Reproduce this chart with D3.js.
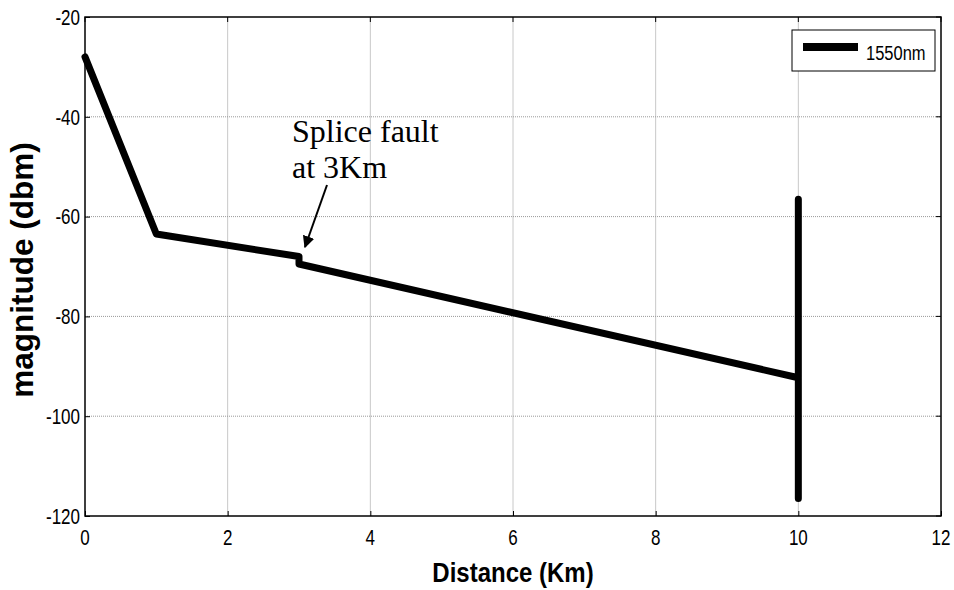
<!DOCTYPE html>
<html>
<head>
<meta charset="utf-8">
<script src="https://d3js.org/d3.v7.min.js"></script>
<style>
  body { margin: 0; background: #fff; }
  text { font-family: Arial, "Liberation Sans", sans-serif; }
</style>
</head>
<body>
<script>
// trace of the 1550nm OTDR curve (km, dbm)
var distance = [0, 1, 3, 3, 10, 10, 10];
var magnitude = [-28, -63.5, -68, -69.5, -92.3, -56.5, -116.5];
var xTicks = [0, 2, 4, 6, 8, 10, 12];
var yTicks = [-20, -40, -60, -80, -100, -120];
var seriesName = "1550nm";

var W = 954, H = 590;
var pLeft = 85, pRight = 941, pTop = 17, pBottom = 516;
var stretch = 1.28;   // the figure's text is taller than it is wide

var svg = d3.select("body").append("svg")
    .attr("width", W).attr("height", H);

var x = d3.scaleLinear().domain([0, 12]).range([pLeft, pRight]);
var y = d3.scaleLinear().domain([-120, -20]).range([pBottom, pTop]);

// grid
svg.append("g").selectAll("line").data(xTicks.slice(1, -1)).enter().append("line")
    .attr("x1", d => x(d)).attr("x2", d => x(d))
    .attr("y1", pTop).attr("y2", pBottom)
    .attr("stroke", "#c8c8c8").attr("stroke-width", 1);
svg.append("g").selectAll("line").data(yTicks.slice(1, -1)).enter().append("line")
    .attr("x1", pLeft).attr("x2", pRight)
    .attr("y1", d => y(d)).attr("y2", d => y(d))
    .attr("stroke", "#999").attr("stroke-width", 1).attr("stroke-dasharray", "1,1");

// frame
svg.append("rect")
    .attr("x", pLeft).attr("y", pTop)
    .attr("width", pRight - pLeft).attr("height", pBottom - pTop)
    .attr("fill", "none").attr("stroke", "#000").attr("stroke-width", 1.5);

// axes: inward ticks, labels drawn separately so they can be stretched
var xAxis = d3.axisBottom(x).tickValues(xTicks).tickSizeInner(-5).tickSizeOuter(0).tickFormat("");
var yAxis = d3.axisLeft(y).tickValues(yTicks).tickSizeInner(-5).tickSizeOuter(0).tickFormat("");
var gx = svg.append("g").attr("transform", "translate(0," + pBottom + ")").call(xAxis);
var gy = svg.append("g").attr("transform", "translate(" + pLeft + ",0)").call(yAxis);
[gx, gy].forEach(function (g) {
  g.select(".domain").remove();
  g.selectAll("line").attr("stroke", "#000");
});

svg.append("g").selectAll("g").data(xTicks).enter().append("g")
    .attr("transform", d => "translate(" + x(d) + ",545) scale(1," + stretch + ")")
    .append("text").attr("text-anchor", "middle").attr("font-size", 17)
    .text(d => String(d));
svg.append("g").selectAll("g").data(yTicks).enter().append("g")
    .attr("transform", d => "translate(80," + y(d) + ") scale(1," + stretch + ")")
    .append("text").attr("text-anchor", "end").attr("dy", "0.36em").attr("font-size", 17)
    .text(d => String(d));

// top/right ticks
svg.append("g").selectAll("line").data(xTicks).enter().append("line")
    .attr("x1", d => x(d)).attr("x2", d => x(d))
    .attr("y1", pTop).attr("y2", pTop + 5).attr("stroke", "#000");
svg.append("g").selectAll("line").data(yTicks).enter().append("line")
    .attr("x1", pRight).attr("x2", pRight - 5)
    .attr("y1", d => y(d)).attr("y2", d => y(d)).attr("stroke", "#000");

// data line
var pts = distance.map((d, i) => [d, magnitude[i]]);
svg.append("path")
    .datum(pts)
    .attr("d", d3.line().x(d => x(d[0])).y(d => y(d[1])))
    .attr("fill", "none").attr("stroke", "#000")
    .attr("stroke-width", 7).attr("stroke-linejoin", "round").attr("stroke-linecap", "round");

// legend
var lg = svg.append("g");
lg.append("rect").attr("x", 792).attr("y", 30).attr("width", 143).attr("height", 41)
    .attr("fill", "#fff").attr("stroke", "#000").attr("stroke-width", 1);
lg.append("line").attr("x1", 803).attr("x2", 858).attr("y1", 47).attr("y2", 47)
    .attr("stroke", "#000").attr("stroke-width", 8);
lg.append("g").attr("transform", "translate(866,60) scale(1,1.2)")
    .append("text").attr("font-size", 16.5).text(seriesName);

// axis titles
svg.append("g").attr("transform", "translate(" + ((pLeft + pRight) / 2) + ",582) scale(1,1.17)")
    .append("text").attr("text-anchor", "middle").attr("font-size", 24).attr("font-weight", "bold")
    .text("Distance (Km)");
svg.append("text").attr("transform", "translate(33,270) rotate(-90)")
    .attr("text-anchor", "middle").attr("font-size", 31.5).attr("font-weight", "bold")
    .text("magnitude (dbm)");

// annotation
var serif = "'Times New Roman', 'Liberation Serif', serif";
svg.append("text").attr("x", 292).attr("y", 142).attr("font-size", 32)
    .style("font-family", serif).text("Splice fault");
svg.append("text").attr("x", 292).attr("y", 178).attr("font-size", 32)
    .style("font-family", serif).text("at 3Km");
svg.append("defs").append("marker").attr("id", "arr")
    .attr("viewBox", "0 0 10 10").attr("refX", 9).attr("refY", 5)
    .attr("markerWidth", 6).attr("markerHeight", 6).attr("orient", "auto")
    .append("path").attr("d", "M0,0 L10,5 L0,10 z").attr("fill", "#000");
svg.append("line").attr("x1", 327).attr("y1", 185).attr("x2", 305).attr("y2", 247)
    .attr("stroke", "#000").attr("stroke-width", 2).attr("marker-end", "url(#arr)");
</script>
</body>
</html>
